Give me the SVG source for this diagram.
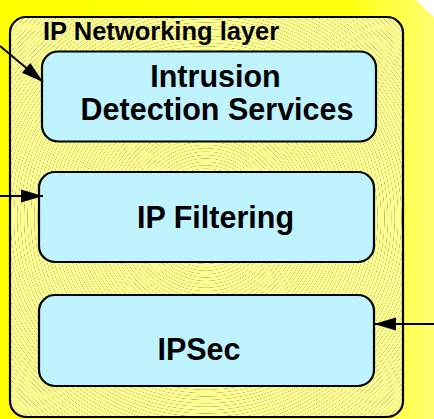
<svg xmlns="http://www.w3.org/2000/svg" width="434" height="419" viewBox="0 0 434 419">
<defs>
<linearGradient id="bg" x1="0" y1="0" x2="1" y2="0">
<stop offset="0" stop-color="#ffff00"/>
<stop offset="0.8" stop-color="#ffff10"/>
<stop offset="1" stop-color="#ffff70"/>
</linearGradient>
<radialGradient id="rings" gradientUnits="userSpaceOnUse" cx="206" cy="218" r="3.4" spreadMethod="repeat">
<stop offset="0" stop-color="#ffff90"/>
<stop offset="0.38" stop-color="#ffff90"/>
<stop offset="0.5" stop-color="#b8b888"/>
<stop offset="0.62" stop-color="#ffff90"/>
<stop offset="1" stop-color="#ffff90"/>
</radialGradient>
<marker id="ah" markerUnits="userSpaceOnUse" markerWidth="22" markerHeight="13" refX="22" refY="6.5" orient="auto" overflow="visible">
<path d="M0,0 L22,6.5 L0,13 z" fill="#000"/>
</marker>
<style>
.box{fill:#bff3ff;stroke:#000;stroke-width:2.2}
.t{font-family:"Liberation Sans",Arial,sans-serif;font-weight:bold;fill:#000}
.lbl{font-size:30.5px;text-anchor:middle}
.conn{stroke:#000;stroke-width:2;fill:none;marker-end:url(#ah)}
</style>
</defs>
<polygon points="0,0 416,0 434,17 434,419 0,419" fill="url(#bg)"/>
<g id="layer">
<rect x="10" y="17" width="393" height="400" rx="16" fill="url(#rings)" stroke="#000" stroke-width="2.2"/>
<text class="t" x="43" y="40" font-size="25.5">IP Networking layer</text>
</g>
<g id="ids">
<rect class="box" x="42" y="51.5" width="334" height="90" rx="16"/>
<text class="t lbl" x="215.5" y="87">Intrusion</text>
<text class="t lbl" x="217" y="120">Detection Services</text>
</g>
<g id="filtering">
<rect class="box" x="39" y="172" width="335" height="90" rx="16"/>
<text class="t lbl" x="215.5" y="228">IP Filtering</text>
</g>
<g id="ipsec">
<rect class="box" x="39" y="295" width="335" height="91" rx="16"/>
<text class="t lbl" x="199" y="360">IPSec</text>
</g>
<g id="connectors">
<path class="conn" d="M0,46 L43,82"/>
<path class="conn" d="M0,196 L43,196"/>
<path class="conn" d="M434,324 L374,324"/>
</g>
</svg>
